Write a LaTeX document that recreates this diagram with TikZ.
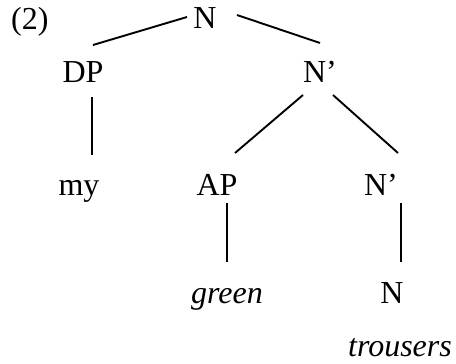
\documentclass[tikz,border=0pt]{standalone}
\usepackage{fontspec}
\setmainfont{Liberation Serif}
\tikzset{
  lab/.style={inner sep=0pt, anchor=base, font=\fontsize{32}{38}\selectfont},
  ilab/.style={lab, font=\fontsize{32}{38}\selectfont\itshape},
  br/.style={line width=1.9pt}
}
\begin{document}
\begin{tikzpicture}[x=1pt,y=1pt]
\useasboundingbox (0,0) rectangle (456,-364);
\node[lab, anchor=base west] (num) at (11,-29) {(2)};
\node[lab] (Ntop) at (205,-28) {N};
\node[lab] (DP) at (83,-82) {DP};
\node[lab] (Nb1) at (320,-82) {N'};
\node[lab] (my) at (79,-195) {my};
\node[lab] (AP) at (217,-195) {AP};
\node[lab] (Nb2) at (381,-195) {N'};
\node[ilab] (green) at (227,-303) {green};
\node[lab] (Nlow) at (392,-303) {N};
\node[ilab] (trousers) at (400,-356) {trousers};
\draw[br] ([shift={(-18,11)}]Ntop.base) -- ([shift={(10,37)}]DP.base);
\draw[br] ([shift={(32,13)}]Ntop.base) -- ([shift={(0,39)}]Nb1.base);
\draw[br] ([shift={(9,-15)}]DP.base) -- ([shift={(13,40)}]my.base);
\draw[br] ([shift={(-17,-13)}]Nb1.base) -- ([shift={(18,42)}]AP.base);
\draw[br] ([shift={(13,-13)}]Nb1.base) -- ([shift={(17,42)}]Nb2.base);
\draw[br] ([shift={(10,-8)}]AP.base) -- ([shift={(0,41)}]green.base);
\draw[br] ([shift={(20,-8)}]Nb2.base) -- ([shift={(9,41)}]Nlow.base);
\end{tikzpicture}
\end{document}
